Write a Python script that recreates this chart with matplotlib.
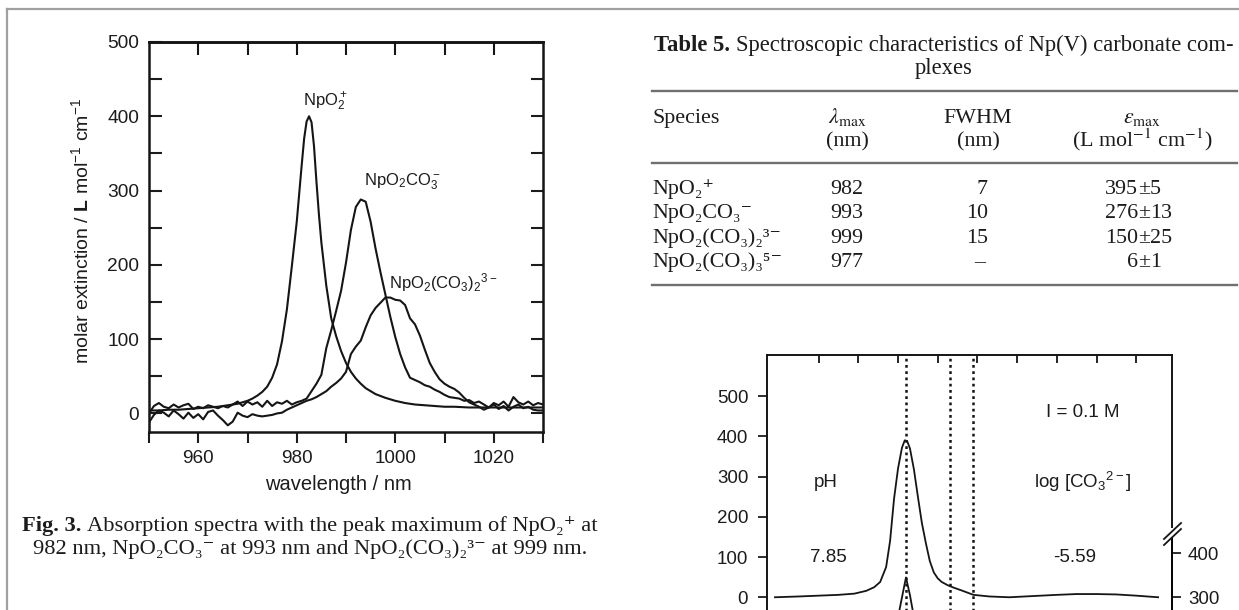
import matplotlib
matplotlib.use('Agg')
import matplotlib.pyplot as plt
from matplotlib.lines import Line2D

plt.rcParams['font.family'] = ['Liberation Sans', 'DejaVu Sans']
plt.rcParams['mathtext.fontset'] = 'custom'
plt.rcParams['mathtext.rm'] = 'Liberation Sans'
plt.rcParams['mathtext.it'] = 'Liberation Sans:italic'
plt.rcParams['mathtext.bf'] = 'Liberation Sans:bold'
plt.rcParams['mathtext.sf'] = 'Liberation Sans'

# ---------------- data: Fig. 3 absorption spectra ----------------
wl_npo2 = [950, 952, 954, 956, 958, 960, 962, 964, 966, 968,
           970, 971, 972, 973, 974, 975, 976, 977, 978, 979,
           980, 980.5, 981, 981.5, 982, 982.5, 983, 983.5, 984, 984.5,
           985, 986, 987, 988, 989, 990, 991, 992, 993, 994,
           996, 998, 1000, 1002, 1004, 1006, 1008, 1010, 1012, 1015,
           1020, 1025, 1030]
eps_npo2 = [4, 4, 5, 5, 6, 7, 8, 9, 11, 13,
            17, 20, 24, 29, 36, 48, 66, 97, 140, 198,
            258, 296, 334, 370, 393, 400, 392, 360, 312, 268,
            230, 172, 128, 104, 84, 68, 56, 47, 40, 34,
            26, 21, 17, 14, 12, 11, 10, 9, 9, 8,
            8, 8, 8]

wl_mono = list(range(950, 1031))
eps_mono = [0, 10, 14, 9, 7, 12, 8, 11, 13, 6,
            9, 7, 11, 9, 7, 10, 8, 12, 16, 10,
            16, 12, 15, 9, 17, 10, 15, 13, 17, 12,
            15, 17, 20, 30, 40, 52, 88, 112, 138, 165,
            203, 247, 278, 288, 285, 258, 222, 190, 160, 130,
            103, 80, 62, 48, 45, 42, 38, 36, 32, 29,
            25, 22, 21, 20, 17, 18, 14, 16, 12, 8,
            14, 11, 16, 9, 22, 15, 12, 16, 11, 14,
            12]

wl_di = list(range(950, 1031))
eps_di = [-12, -2, 4, 1, -4, 4, -1, -7, 1, -6,
          -1, -8, 2, 4, -3, -9, -16, -11, 1, -3,
          -5, -1, -3, -4, -3, -2, 0, 1, 5, 8,
          11, 14, 17, 19, 22, 26, 30, 36, 41, 47,
          56, 80, 90, 98, 116, 132, 142, 149, 156, 156,
          153, 152, 146, 128, 120, 105, 86, 68, 56, 46,
          40, 36, 33, 28, 21, 15, 12, 9, 5, 8,
          12, 6, 10, 4, 9, 12, 7, 9, 5, 4,
          4]

# ---------------- data: Table 5 ----------------
species = ["NpO\u2082\u207a", "NpO\u2082CO\u2083\u207b",
           "NpO\u2082(CO\u2083)\u2082\u00b3\u207b", "NpO\u2082(CO\u2083)\u2083\u2075\u207b"]
lam_max = [982, 993, 999, 977]
fwhm = ["7", "10", "15", "\u2013"]
eps_max = ["395\u00b15", "276\u00b113", "150\u00b125", "6\u00b11"]

# ---------------- data: second spectra figure (stacked) ----------------
wl_top = [949, 955, 960, 965, 969, 972, 974, 975.5, 977, 978,
          979, 980, 981, 981.7, 982.3, 983, 984, 985, 986, 987,
          988, 989, 990, 991, 992.5, 994, 996, 999, 1003, 1008,
          1014, 1020, 1025, 1030, 1035, 1040, 1045.5]
eps_top = [0, 2, 4, 6, 9, 16, 25, 38, 75, 140,
           245, 320, 372, 390, 388, 370, 318, 250, 185, 135,
           90, 62, 47, 38, 30, 24, 17, 6, 2, 0,
           3, 6, 8, 8, 7, 4, 0]
wl_low = [949, 960, 970, 975, 978, 980, 981, 982, 983, 984, 986, 990, 1000, 1020, 1045.5]
eps_low = [150, 155, 165, 190, 220, 255, 300, 345, 305, 255, 215, 180, 160, 150, 145]
ph_value = "7.85"
logco3_value = "-5.59"
ionic = "I = 0.1 M"

# ---------------- figure ----------------
W, H = 1239, 610
fig = plt.figure(figsize=(W / 100, H / 100), dpi=100)
fig.patch.set_facecolor('white')
renderer = fig.canvas.get_renderer()
TXT = '#1c1c1c'
LC = '#151515'
SERIF = ['Liberation Serif', 'DejaVu Serif']


def fx(px):
    return px / W


def fy(py):
    return 1 - py / H


def serif_text(px, py, s, ha='left', fs=15.8, weight='normal'):
    return fig.text(fx(px), fy(py), s, ha=ha, va='baseline', fontsize=fs,
                    family=SERIF, weight=weight, color=TXT)


def serif_line(pieces, xc, py, fs):
    """pieces: list of (text, weight); laid out left to right, centred on xc (px)."""
    arts = [serif_text(0, py, t, fs=fs, weight=w) for t, w in pieces]
    widths = [a.get_window_extent(renderer).width for a in arts]
    gap = fs * 100 / 72 * 0.25
    total = sum(widths) + gap * (len(arts) - 1)
    x = xc - total / 2
    for a, w in zip(arts, widths):
        a.set_x(fx(x))
        x += w + gap


# page frame (top and left)
fig.add_artist(Line2D([fx(7), fx(1239)], [fy(9), fy(9)], color='#a0a0a0', lw=1.6))
fig.add_artist(Line2D([fx(7), fx(7)], [fy(9), fy(612)], color='#a0a0a0', lw=1.6))

# ---------- left chart ----------
ax1 = fig.add_axes([fx(149), fy(432), (543 - 149) / W, (432 - 42) / H])
for xs, ys in [(wl_npo2, eps_npo2), (wl_mono, eps_mono), (wl_di, eps_di)]:
    ax1.plot(xs, ys, color=LC, lw=1.5, solid_joinstyle='round')
ax1.set_xlim(950, 1030)
ax1.set_ylim(-25, 500)
xt = list(range(950, 1031, 10))
ax1.set_xticks(xt)
ax1.set_xticklabels(['' if v % 20 else str(v) for v in xt])
ax1.tick_params(axis='x', direction='out', length=8, width=1.5, labelsize=13.6,
                pad=5, colors=TXT, top=False)
yt = list(range(0, 501, 50))
ax1.set_yticks(yt)
ax1.set_yticklabels([str(v) if v % 100 == 0 else '' for v in yt])
ax1.tick_params(axis='y', direction='in', left=True, right=True, length=9,
                width=1.5, labelsize=13.8, pad=7, colors=TXT)
for s in ax1.spines.values():
    s.set_linewidth(1.8)
    s.set_color(LC)
sec = ax1.secondary_xaxis('top')
sec.set_xticks(list(range(960, 1021, 10)))
sec.tick_params(direction='in', length=9, width=1.5, labeltop=False, colors=LC)
sec.spines['top'].set_linewidth(1.8)

ax1.text(985.7, 419, "NpO$_2^+$", ha='center', va='center', fontsize=12, color=TXT)
ax1.text(1001.4, 312, "NpO$_2$CO$_3^-$", ha='center', va='center', fontsize=12, color=TXT)
ax1.text(1009.7, 176, "NpO$_2$(CO$_3$)$_2$$^{3-}$", ha='center', va='center', fontsize=12, color=TXT)

fig.text(fx(81), fy(231), r"molar extinction / $\mathbf{L}$ mol$^{-1}$ cm$^{-1}$",
         rotation=90, ha='center', va='center', fontsize=14, color=TXT)
fig.text(fx(338), fy(484), "wavelength / nm", ha='center', va='center', fontsize=14.5, color=TXT)

# caption
serif_line([("Fig. 3.", 'bold'),
            ("Absorption spectra with the peak maximum of NpO\u2082\u207a at", 'normal')],
           310, 531, 16.2)
serif_line([("982 nm, NpO\u2082CO\u2083\u207b at 993 nm and NpO\u2082(CO\u2083)\u2082\u00b3\u207b at 999 nm.", 'normal')],
           310, 554, 16.2)

# ---------- table ----------
serif_line([("Table 5.", 'bold'),
            ("Spectroscopic characteristics of Np(V) carbonate com-", 'normal')],
           944, 51, 16.3)
serif_line([("plexes", 'normal')], 944, 74, 16.3)
for yr in (91, 163, 285):
    fig.add_artist(Line2D([fx(652), fx(1237)], [fy(yr), fy(yr)], color='#707070', lw=1.7))

FS = 15.8
serif_text(652, 123, "Species", fs=FS)
fig.text(fx(847), fy(123), r"$\lambda_{\mathrm{max}}$", ha='center', va='baseline', fontsize=FS,
         family=SERIF, math_fontfamily='stix', color=TXT)
serif_text(978, 123, "FWHM", ha='center', fs=FS)
fig.text(fx(1142), fy(123), r"$\varepsilon_{\mathrm{max}}$", ha='center', va='baseline', fontsize=FS,
         family=SERIF, math_fontfamily='stix', color=TXT)
serif_text(847, 146, "(nm)", ha='center', fs=FS)
serif_text(978, 146, "(nm)", ha='center', fs=FS)
fig.text(fx(1142), fy(146), "(L mol$^{-1}$ cm$^{-1}$)", ha='center', va='baseline', fontsize=FS,
         family=SERIF, math_fontfamily='stix', color=TXT)

row_base = [194, 218, 243, 267]
for i in range(4):
    yb = row_base[i]
    serif_text(652, yb, species[i], fs=FS)
    serif_text(847, yb, str(lam_max[i]), ha='center', fs=FS)
    if fwhm[i] == "\u2013":
        serif_text(980, yb, fwhm[i], ha='center', fs=FS)
    else:
        serif_text(988, yb, fwhm[i], ha='right', fs=FS)
    a, b = eps_max[i].split("\u00b1")
    serif_text(1138, yb, a, ha='right', fs=FS)
    serif_text(1144, yb, "\u00b1", ha='center', fs=FS)
    serif_text(1150, yb, b, ha='left', fs=FS)

# ---------- right (stacked) chart ----------
R = 0.913  # right-axis units per left-axis unit
ax2 = fig.add_axes([fx(767), fy(718), (1172 - 767) / W, (718 - 355) / H])
ax2.set_xlim(947, 1049)
ax2.set_ylim(-300, 602)
for lam in lam_max[:3]:
    ax2.axvline(lam, color=LC, lw=1.8, ls=(0, (1.1, 1.4)))
ax2.plot(wl_top, eps_top, color=LC, lw=1.3)
ax2.set_yticks(list(range(0, 501, 100)))
ax2.tick_params(axis='y', direction='out', length=6.5, width=1.3, labelsize=13.5,
                pad=7, left=True, right=False, colors=TXT)
ax2.set_xticks(list(range(960, 1041, 10)))
ax2.tick_params(axis='x', direction='in', top=True, bottom=False, labelbottom=False,
                length=6, width=1.3, colors=LC)
for s in ax2.spines.values():
    s.set_linewidth(1.4)
    s.set_color(LC)
ax2.spines['right'].set_bounds((597 - 527) / 0.402, 602)

ax2t = ax2.twinx()
ax2t.set_ylim(300 + (-300) * R, 300 + 602 * R)
ax2t.plot(wl_low, eps_low, color=LC, lw=1.3)
ax2t.set_yticks([300, 400])
ax2t.tick_params(axis='y', direction='out', length=6.5, width=1.3, labelsize=13.5,
                 pad=5, right=True, left=False, colors=TXT)
for k in ('top', 'left', 'bottom'):
    ax2t.spines[k].set_visible(False)
ax2t.spines['right'].set_linewidth(1.4)
ax2t.spines['right'].set_bounds(300 + (-300) * R, 300 + ((597 - 538) / 0.402) * R)

# axis-break marks
for dy in (0, 6):
    fig.add_artist(Line2D([fx(1164), fx(1181)], [fy(539 + dy), fy(523 + dy)], color=LC, lw=1.3))

ax2.text(1026.6, 458, ionic, ha='center', va='center', fontsize=13.5, color=TXT)
ax2.text(961.9, 286, "pH", ha='center', va='center', fontsize=13.5, color=TXT)
ax2.text(1026.6, 286, "log [CO$_3$$^{2-}$]", ha='center', va='center', fontsize=13.5, color=TXT)
ax2.text(962.4, 100, ph_value, ha='center', va='center', fontsize=13.5, color=TXT)
ax2.text(1024.6, 100, logco3_value, ha='center', va='center', fontsize=13.5, color=TXT)

fig.savefig('out.png', dpi=100, facecolor='white')
